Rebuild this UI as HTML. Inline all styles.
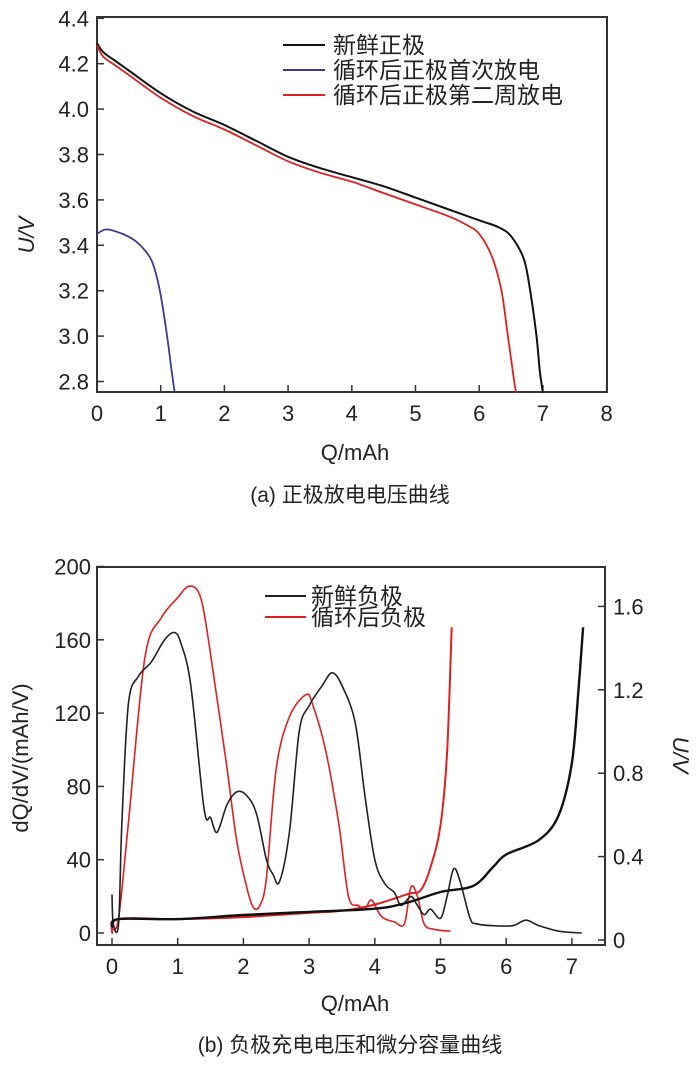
<!DOCTYPE html>
<html><head><meta charset="utf-8"><style>
body{margin:0;background:#fff}
svg{display:block}
text{font-family:"Liberation Sans","Noto Sans CJK SC",sans-serif;fill:#222}
</style></head><body>
<svg id="svg" width="700" height="1066" xmlns="http://www.w3.org/2000/svg"></svg>
<script>
// ---- Chart A data ----
const aXTicks=[0,1,2,3,4,5,6,7,8];
const aYTicks=[2.8,3.0,3.2,3.4,3.6,3.8,4.0,4.2,4.4];
const aFreshQ=[0,0.1,0.3,0.5,1,1.5,2,2.5,3,3.5,4,4.5,5,5.5,6,6.3,6.5,6.7,6.8,6.9,6.95,7.0];
const aFreshV=[4.29,4.25,4.21,4.17,4.07,3.99,3.93,3.86,3.79,3.74,3.70,3.66,3.61,3.56,3.51,3.48,3.44,3.34,3.2,3.0,2.85,2.75];
const aFirstQ=[0,0.15,0.4,0.6,0.8,0.9,1.0,1.1,1.17,1.22];
const aFirstV=[3.45,3.47,3.45,3.42,3.36,3.3,3.18,3.0,2.85,2.75];
const aSecondQ=[0,0.1,0.3,0.5,1,1.5,2,2.5,3,3.5,4,4.5,5,5.5,5.8,6,6.2,6.35,6.45,6.55,6.58];
const aSecondV=[4.28,4.23,4.19,4.15,4.05,3.97,3.91,3.84,3.77,3.72,3.68,3.63,3.58,3.53,3.49,3.45,3.35,3.2,3.0,2.8,2.75];
// ---- Chart B data ----
const bXTicks=[0,1,2,3,4,5,6,7];
const bYTicks=[0,40,80,120,160,200];
const bY2Ticks=[0,0.4,0.8,1.2,1.6];
const bFreshDQ_Q=[0,0.02,0.1,0.15,0.25,0.4,0.6,0.8,0.95,1.05,1.2,1.4,1.5,1.6,1.75,1.9,2.05,2.2,2.35,2.45,2.55,2.7,2.85,3.0,3.2,3.35,3.5,3.7,3.85,4.0,4.15,4.3,4.4,4.55,4.65,4.75,4.85,5.0,5.1,5.2,5.3,5.45,5.55,5.8,6.1,6.3,6.5,6.8,7.15];
const bFreshDQ=[21,5,5,60,125,140,148,160,164,158,135,68,63,55,70,77,75,65,40,32,28,55,110,124,135,142,135,115,75,40,27,22,15,20,15,10,13,8,20,35,28,8,5,4,4,7,4,1,0];
const bCycDQ_Q=[0,0.1,0.25,0.5,0.75,1.0,1.15,1.3,1.4,1.55,1.75,1.9,2.05,2.15,2.25,2.35,2.5,2.7,2.95,3.05,3.25,3.45,3.6,3.75,3.85,3.95,4.1,4.3,4.45,4.55,4.65,4.75,4.9,5.15];
const bCycDQ=[2,8,60,150,172,183,189,187,175,140,90,50,25,14,15,30,90,118,130,125,100,60,20,15,13,18,9,6,5,25,20,5,2,1];
const bFreshU_Q=[0,0.1,1,2,3,4,4.5,5,5.5,5.8,6.0,6.5,6.8,7.0,7.1,7.17];
const bFreshU=[0.06,0.1,0.1,0.12,0.135,0.15,0.18,0.23,0.26,0.35,0.41,0.48,0.6,0.85,1.2,1.5];
const bCycU_Q=[0,0.1,1,2,3,3.5,4,4.5,4.7,4.85,5.0,5.1,5.17];
const bCycU=[0.03,0.1,0.1,0.11,0.13,0.14,0.17,0.22,0.24,0.35,0.55,0.9,1.5];

const svg=document.getElementById('svg');
const NS='http://www.w3.org/2000/svg';
function mk(tag,attrs,parent){const e=document.createElementNS(NS,tag);for(const k in attrs)e.setAttribute(k,attrs[k]);(parent||svg).appendChild(e);return e;}
function txt(x,y,s,size,anchor,parent,extra){const t=mk('text',Object.assign({x:x,y:y,'font-size':size,'text-anchor':anchor||'middle'},extra||{}),parent);t.textContent=s;return t;}
function pathD(xs,ys,fx,fy){
  const P=xs.map((q,i)=>[fx(q),fy(ys[i])]);
  let d='M'+P[0][0].toFixed(1)+','+P[0][1].toFixed(1);
  for(let i=0;i<P.length-1;i++){
    const p0=P[i-1]||P[i],p1=P[i],p2=P[i+1],p3=P[i+2]||p2,k=1/6;
    d+='C'+(p1[0]+(p2[0]-p0[0])*k).toFixed(1)+','+(p1[1]+(p2[1]-p0[1])*k).toFixed(1)+' '+(p2[0]-(p3[0]-p1[0])*k).toFixed(1)+','+(p2[1]-(p3[1]-p1[1])*k).toFixed(1)+' '+p2[0].toFixed(1)+','+p2[1].toFixed(1);
  }
  return d;
}
const TS=22;

// ===== Chart A =====
const ax=q=>97+q*63.7, ay=v=>381.5-(v-2.8)/0.2*45.4;
const gA=mk('g',{});


const frA=mk('rect',{x:97,y:17,width:510,height:375,fill:'none',stroke:'#333','stroke-width':2},gA);


aXTicks.forEach(q=>{mk('line',{x1:ax(q),x2:ax(q),y1:392,y2:385,stroke:'#333','stroke-width':1.5},gA);
 const t=txt(ax(q),421,String(q),TS,'middle',gA);
 
 });
aYTicks.forEach(v=>{mk('line',{x1:97,x2:104,y1:ay(v),y2:ay(v),stroke:'#333','stroke-width':1.5},gA);
 const t=txt(89,ay(v)+8,v.toFixed(1),TS,'end',gA);
 
 });
let t=txt(355,460,'Q/mAh',TS,'middle',gA);


t=txt(0,0,'U/V',TS,'middle',gA,{transform:'translate(34,235) rotate(-90)','font-style':'italic'});


t=txt(350,502,'(a) 正极放电电压曲线',21,'middle',gA);


let p=mk('path',{d:pathD(aFreshQ,aFreshV,ax,ay),fill:'none',stroke:'#111','stroke-width':2},gA);


p=mk('path',{d:pathD(aFirstQ,aFirstV,ax,ay),fill:'none',stroke:'#3a3a9a','stroke-width':1.8},gA);


p=mk('path',{d:pathD(aSecondQ,aSecondV,ax,ay),fill:'none',stroke:'#e02020','stroke-width':1.8},gA);


[['新鲜正极','#111',45],['循环后正极首次放电','#3a3a9a',70],['循环后正极第二周放电','#e02020',95]].forEach(function(e){
 const g=mk('g',{},gA);
 
 
 mk('line',{x1:283,x2:325,y1:e[2],y2:e[2],stroke:e[1],'stroke-width':2},g);
 txt(333,e[2]+8,e[0],23,'start',g,{'font-family':'"Noto Serif CJK SC","Noto Sans CJK SC",serif'});
});

// ===== Chart B =====
const bx=q=>112+q*65.7, by=v=>933-v/40*73.3, by2=u=>940-u*208.5;
const gB=mk('g',{});


const frB=mk('rect',{x:97,y:567,width:508,height:378,fill:'none',stroke:'#333','stroke-width':2},gB);


bXTicks.forEach(q=>{mk('line',{x1:bx(q),x2:bx(q),y1:945,y2:938,stroke:'#333','stroke-width':1.5},gB);
 const t=txt(bx(q),974,String(q),TS,'middle',gB);
 
 });
bYTicks.forEach(v=>{mk('line',{x1:97,x2:104,y1:by(v),y2:by(v),stroke:'#333','stroke-width':1.5},gB);
 const t=txt(91,by(v)+8,String(v),TS,'end',gB);
 
 });
bY2Ticks.forEach(u=>{mk('line',{x1:605,x2:598,y1:by2(u),y2:by2(u),stroke:'#333','stroke-width':1.5},gB);
 const t=txt(613,by2(u)+8,u===0?'0':u.toFixed(1),TS,'start',gB);
 
 });
t=txt(355,1011,'Q/mAh',TS,'middle',gB);


t=txt(0,0,'dQ/dV/(mAh/V)',TS,'middle',gB,{transform:'translate(28,758) rotate(-90)'});


t=txt(0,0,'U/V',TS,'middle',gB,{transform:'translate(673,755) rotate(90)','font-style':'italic'});


t=txt(350,1052,'(b) 负极充电电压和微分容量曲线',21,'middle',gB);


p=mk('path',{d:pathD(bCycDQ_Q,bCycDQ,bx,by),fill:'none',stroke:'#e02020','stroke-width':1.6},gB);


p=mk('path',{d:pathD(bCycU_Q,bCycU,bx,by2),fill:'none',stroke:'#e02020','stroke-width':2},gB);


p=mk('path',{d:pathD(bFreshDQ_Q,bFreshDQ,bx,by),fill:'none',stroke:'#222','stroke-width':1.6},gB);


p=mk('path',{d:pathD(bFreshU_Q,bFreshU,bx,by2),fill:'none',stroke:'#111','stroke-width':2.4},gB);


[['新鲜负极','#222',596],['循环后负极','#e02020',617]].forEach(function(e){
 const g=mk('g',{},gB);
 
 
 mk('line',{x1:265,x2:306,y1:e[2],y2:e[2],stroke:e[1],'stroke-width':2},g);
 txt(311,e[2]+8,e[0],23,'start',g,{'font-family':'"Noto Serif CJK SC","Noto Sans CJK SC",serif'});
});
</script>
</body></html>
